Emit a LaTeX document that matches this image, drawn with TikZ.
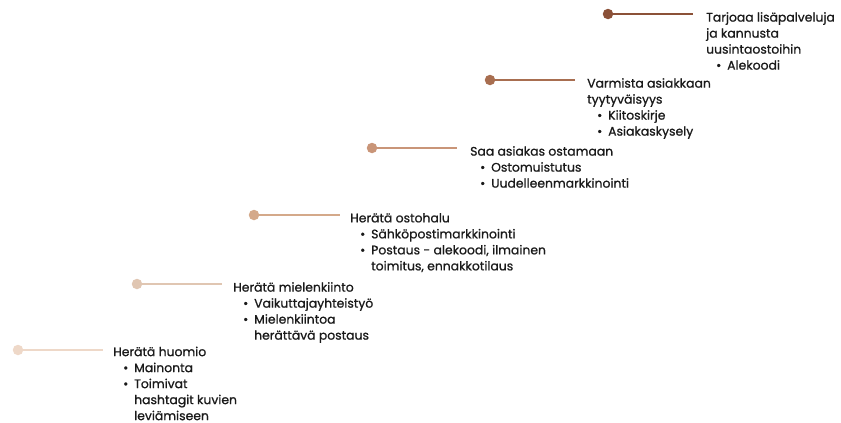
\documentclass[tikz,border=0pt]{standalone}
\usepackage{fontspec}
\setmainfont{Poppins}[UprightFeatures={FakeBold=0.9}]
\usetikzlibrary{positioning}

\definecolor{vaihe1}{HTML}{EED8C8}
\definecolor{vaihe2}{HTML}{E0C6B2}
\definecolor{vaihe3}{HTML}{D4A98A}
\definecolor{vaihe4}{HTML}{C99578}
\definecolor{vaihe5}{HTML}{A86E50}
\definecolor{vaihe6}{HTML}{8B5138}
\definecolor{tekstiv}{HTML}{1A1A1A}

\newcommand{\kohta}[1]{\hspace*{10pt}\makebox[11pt][l]{\textbullet}#1}
\newcommand{\jatko}[1]{\hspace*{21pt}#1}

\tikzset{
  piste/.style={circle,fill=#1,inner sep=0pt,minimum size=10.5pt},
  viiva/.style={draw=#1,line width=1.4pt},
  teksti/.style={anchor=north west,inner sep=0pt,align=left,text=tekstiv,
    font=\fontsize{12.4}{16}\selectfont}
}

\begin{document}
\begin{tikzpicture}[x=1pt,y=-1pt]
\useasboundingbox (0,0) rectangle (841,423);
%step 1
\node[piste=vaihe1] (p1) at (18,350) {};
\coordinate (v1) at (103,350);
\draw[viiva=vaihe1] (p1) -- (v1);
\node[teksti] (t1) at (113,346.5) {Herätä huomio\\
  \kohta{Mainonta}\\
  \kohta{Toimivat}\\
  \jatko{hashtagit kuvien}\\
  \jatko{leviämiseen}};
%step 2
\node[piste=vaihe2] (p2) at (137,284) {};
\coordinate (v2) at (222,284);
\draw[viiva=vaihe2] (p2) -- (v2);
\node[teksti] (t2) at (233,282) {Herätä mielenkiinto\\
  \kohta{Vaikuttajayhteistyö}\\
  \kohta{Mielenkiintoa}\\
  \jatko{herättävä postaus}};
%step 3
\node[piste=vaihe3] (p3) at (254,215) {};
\coordinate (v3) at (340,215);
\draw[viiva=vaihe3] (p3) -- (v3);
\node[teksti] (t3) at (350,213) {Herätä ostohalu\\
  \kohta{Sähköpostimarkkinointi}\\
  \kohta{Postaus - alekoodi, ilmainen}\\
  \jatko{toimitus, ennakkotilaus}};
%step 4
\node[piste=vaihe4] (p4) at (372,148) {};
\coordinate (v4) at (457,148);
\draw[viiva=vaihe4] (p4) -- (v4);
\node[teksti] (t4) at (470,146) {Saa asiakas ostamaan\\
  \kohta{Ostomuistutus}\\
  \kohta{Uudelleenmarkkinointi}};
%step 5
\node[piste=vaihe5] (p5) at (490,80) {};
\coordinate (v5) at (575,80);
\draw[viiva=vaihe5] (p5) -- (v5);
\node[teksti] (t5) at (587,78) {Varmista asiakkaan\\
  tyytyväisyys\\
  \kohta{Kiitoskirje}\\
  \kohta{Asiakaskysely}};
%step 6
\node[piste=vaihe6] (p6) at (608,14) {};
\coordinate (v6) at (693,14);
\draw[viiva=vaihe6] (p6) -- (v6);
\node[teksti] (t6) at (706,12) {Tarjoaa lisäpalveluja\\
  ja kannusta\\
  uusintaostoihin\\
  \kohta{Alekoodi}};
\end{tikzpicture}
\end{document}
